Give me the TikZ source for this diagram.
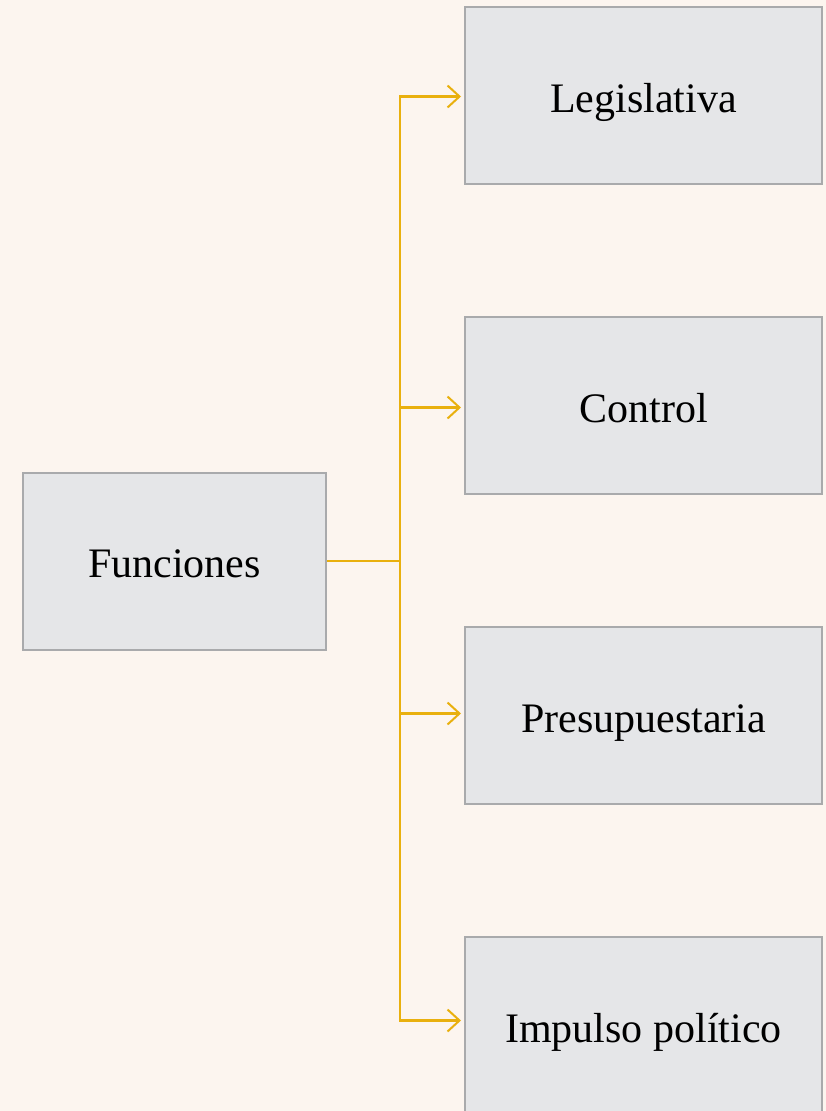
\documentclass[tikz,border=0pt]{standalone}
\usepackage{fontspec}
\setmainfont{Liberation Serif}
\usepackage{xcolor}
\definecolor{fnbg}{HTML}{FCF5EF}
\definecolor{fnbox}{HTML}{E5E6E8}
\definecolor{fnline}{HTML}{A9AAAC}
\definecolor{fnarrow}{HTML}{E9B00E}
\usetikzlibrary{arrows.meta,positioning,calc}

\begin{document}
\begin{tikzpicture}[x=1pt,y=-1pt,
  fnbox/.style={draw=fnline,fill=fnbox,line width=2pt,minimum height=177pt,
    align=center,font=\fontsize{42}{48}\selectfont,inner sep=0pt,
    text height=38pt,text depth=5pt},
  fnlink/.style={draw=fnarrow,line width=2.2pt,-{Straight Barb[length=12pt,width=22pt,line width=2pt]},shorten >=3pt}
]
  \fill[fnbg] (0,0) rectangle (826,1111);
  \useasboundingbox (0,0) rectangle (826,1111);

  \node[fnbox,minimum width=303pt] (fun) at (174.5,561) {Funciones};
  \node[fnbox,minimum width=357pt] (leg) at (643.5,95.5) {Legislativa};
  \node[fnbox,minimum width=357pt] (con) at (643.5,405.5) {Control};
  \node[fnbox,minimum width=357pt] (pre) at (643.5,715.5) {Presupuestaria};
  \node[fnbox,minimum width=357pt] (imp) at (643.5,1025.5) {Impulso político};

  \coordinate (trunk) at (400,561);
  \draw[draw=fnarrow,line width=2.2pt] (fun.east) -- (trunk);
  \draw[fnlink] (trunk) |- ([yshift=-1pt]leg.west);
  \draw[fnlink] (trunk) |- ([yshift=-2pt]con.west);
  \draw[fnlink] (trunk) |- ([yshift=2pt]pre.west);
  \draw[fnlink] (trunk) |- ([yshift=5pt]imp.west);
\end{tikzpicture}
\end{document}
